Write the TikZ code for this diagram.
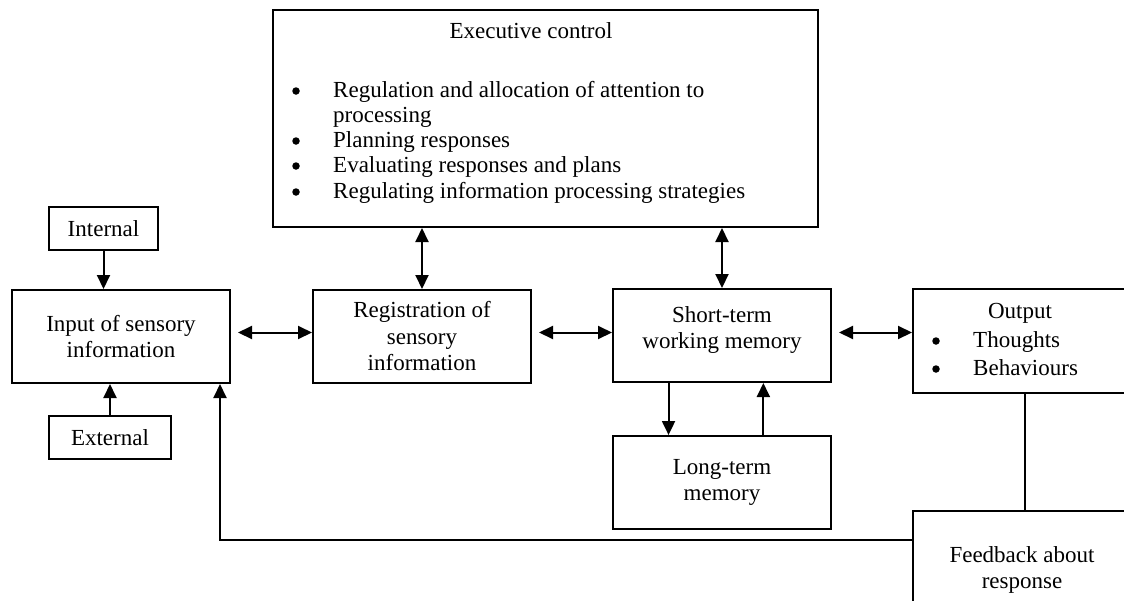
\documentclass[tikz,border=0pt]{standalone}
\usepackage{fontspec}
\setmainfont{Liberation Serif}
\usetikzlibrary{arrows.meta,calc}
\begin{document}
\begin{tikzpicture}[x=1pt,y=-1pt,
  box/.style={draw,line width=2pt,inner sep=0pt,align=center,
    font=\fontsize{23}{26.5}\selectfont},
  txt/.style={inner sep=0pt,font=\fontsize{23}{26.5}\selectfont},
  bul/.style={circle,fill,inner sep=0pt,minimum size=7.5pt},
  arr/.style={line width=2pt,-{Triangle[length=14pt,width=13pt]}},
  darr/.style={line width=2pt,{Triangle[length=14pt,width=13pt]}-{Triangle[length=14pt,width=13pt]}},
  ln/.style={line width=2pt}]
\useasboundingbox (0,0) rectangle (1124,600);
\clip (0,0) rectangle (1124,600);
% boxes
\node[box,minimum width=545,minimum height=217] (exec) at (545.5,118.5) {};
\node[box,minimum width=109,minimum height=43] (internal) at (103.5,228.5) {Internal};
\node[box,minimum width=218,minimum height=93] (input) at (121,336.5) {Input of sensory\\information};
\node[box,minimum width=122,minimum height=43] (external) at (110,437.5) {External};
\node[box,minimum width=218,minimum height=93] (reg) at (422,336.5) {Registration of\\sensory\\information};
\node[box,minimum width=218,minimum height=93] (stm) at (722,335.5) {};
\node[box,minimum width=218,minimum height=93] (ltm) at (722,482.5) {Long-term\\memory};
\node[box,minimum width=224,minimum height=104] (output) at (1025,341) {};
\node[box,minimum width=224,minimum height=110] (feedback) at (1025,566) {};
% texts
\node[txt,anchor=base] (exectitle) at (531,38) {Executive control};
\node[bul] (b1) at (296,91) {};
\node[txt,anchor=base west] (t1) at (333,97) {Regulation and allocation of attention to};
\node[txt,anchor=base west] (t1b) at (333,122) {processing};
\node[bul] (b2) at (296,141) {};
\node[txt,anchor=base west] (t2) at (333,147) {Planning responses};
\node[bul] (b3) at (296,166) {};
\node[txt,anchor=base west] (t3) at (333,172) {Evaluating responses and plans};
\node[bul] (b4) at (296,192) {};
\node[txt,anchor=base west] (t4) at (333,198) {Regulating information processing strategies};
\node[txt,anchor=base] (stmtxt) at (722,322) {Short-term};
\node[txt,anchor=base] (stmtxt2) at (722,348) {working memory};
\node[txt,anchor=base] (outtitle) at (1020,318) {Output};
\node[bul] (ob1) at (936,341) {};
\node[txt,anchor=base west] (ot1) at (973,347) {Thoughts};
\node[bul] (ob2) at (936,369) {};
\node[txt,anchor=base west] (ot2) at (973,375) {Behaviours};
\node[txt,anchor=base] (fbt1) at (1022,562) {Feedback about};
\node[txt,anchor=base] (fbt2) at (1022,588) {response};
% connectors
\draw[arr] (internal.south) -- (internal.south |- input.north);
\draw[arr] (external.north) -- (external.north |- input.south);
\draw[darr,shorten <=7pt] ($(input.east)+(0,-4)$) -- ($(input.east -| reg.west)+(0,-4)$);
\draw[darr,shorten <=7pt] ($(reg.east)+(0,-4)$) -- ($(reg.east -| stm.west)+(0,-4)$);
\draw[darr,shorten <=7pt] ($(stm.east)+(0,-3)$) -- ($(stm.east -| output.west)+(0,-3)$);
\draw[darr] (exec.south -| reg.north) -- (reg.north);
\draw[darr] (exec.south -| stm.north) -- (stm.north);
\coordinate (sd) at ($(stm.south west)!0.257!(stm.south east)$);
\coordinate (su) at ($(stm.south west)!0.688!(stm.south east)$);
\draw[arr] (sd) -- (sd |- ltm.north);
\draw[arr] (su |- ltm.north) -- (su);
\draw[ln] (output.south) -- (feedback.north);
\coordinate (fbin) at ($(input.south east)+(-11,0)$);
\draw[arr] ($(feedback.north west)+(0,30)$) -| (fbin);
\end{tikzpicture}
\end{document}
